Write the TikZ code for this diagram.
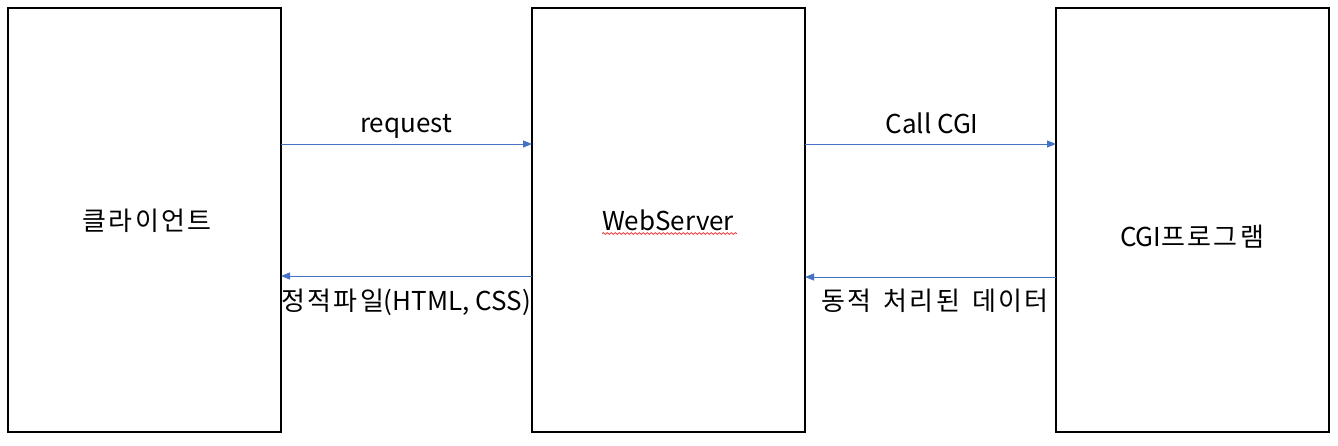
\documentclass[tikz,border=0pt]{standalone}
\usepackage{fontspec}
\setmainfont{Noto Sans CJK KR}
\newfontfamily\ko[LetterSpace=9]{Noto Sans CJK KR}
\usetikzlibrary{arrows.meta,decorations.pathmorphing}
\tikzset{
  box/.style={draw=black, line width=2pt, minimum width=273pt, minimum height=424pt, inner sep=0pt, outer sep=0pt},
  arr/.style={draw={rgb,255:red,68;green,114;blue,196}, line width=1pt, -{Triangle[length=9pt,width=7pt]}},
  lbl/.style={font=\fontsize{26}{30}\selectfont, inner sep=0pt, anchor=base},
  squiggle/.style={draw={rgb,255:red,235;green,60;blue,60}, line width=0.8pt, decorate, decoration={snake, amplitude=0.9pt, segment length=4pt}}
}
\begin{document}
\begin{tikzpicture}[x=1pt,y=-1pt]
\useasboundingbox (0,0) rectangle (1338,445);
\node[box] (client) at (144.5,220) {};
\node[box] (server) at (668.5,220) {};
\node[box] (cgi) at (1192.5,220) {};
\node[lbl] (clientlbl) at (147,230) {\ko 클라이언트};
\node[lbl] (serverlbl) at (668,230) {WebServer};
\node[lbl] (cgilbl) at (1192,246) {CGI{\ko 프로그램}};
\coordinate (sq1) at (602,233.5);
\coordinate (sq2) at (737,233.5);
\draw[squiggle] (sq1) -- (sq2);
\draw[arr] ([yshift=76pt]client.east) -- ([yshift=76pt]server.west);
\draw[arr] ([yshift=-56pt]server.west) -- ([yshift=-56pt]client.east);
\draw[arr] ([yshift=76pt]server.east) -- ([yshift=76pt]cgi.west);
\draw[arr] ([yshift=-57pt]cgi.west) -- ([yshift=-57pt]server.east);
\node[lbl] (req) at (406,132) {request};
\node[lbl] (static) at (406,310) {{\ko 정적파일}(HTML, CSS)};
\node[lbl] (call) at (932,133) {Call CGI};
\node[lbl] (dyn) at (935,310) {\ko 동적\hspace{4pt} 처리된\hspace{4pt} 데이터};
\end{tikzpicture}
\end{document}
